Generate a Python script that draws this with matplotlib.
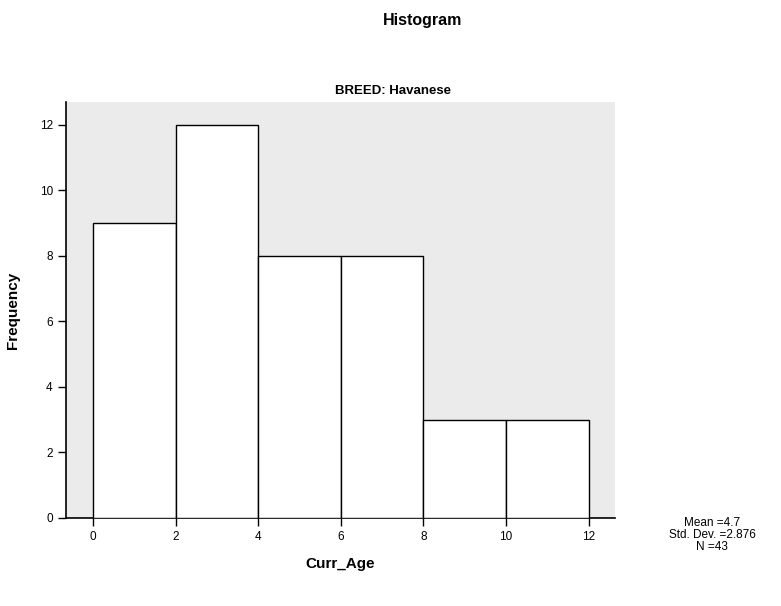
import matplotlib
matplotlib.use("Agg")
import matplotlib.pyplot as plt

plt.rcParams['font.family'] = ['Liberation Sans', 'DejaVu Sans']

bin_edges = [0, 2, 4, 6, 8, 10, 12]
counts = [9, 12, 8, 8, 3, 3]
xticks = [0, 2, 4, 6, 8, 10, 12]
yticks = [0, 2, 4, 6, 8, 10, 12]
stats_text = "Mean =4.7\nStd. Dev. =2.876\nN =43"

fig = plt.figure(figsize=(7.81, 6.06), dpi=100)
ax = fig.add_axes([66/781, 88/606, (615-66)/781, (518-102)/606])
ax.set_facecolor('#ebebeb')
widths = [bin_edges[i+1] - bin_edges[i] for i in range(len(counts))]
ax.bar(bin_edges[:-1], counts, width=widths, align='edge', facecolor='white',
       edgecolor='black', linewidth=1.0, zorder=3, snap=True)
ax.set_xlim(-0.66, 12.64)
ax.set_ylim(0, 12.7)
ax.set_xticks(xticks)
ax.set_yticks(yticks)
ax.tick_params(direction='out', length=6, width=1, labelsize=8.5, colors='black')
for s in ['top', 'right']:
    ax.spines[s].set_visible(False)
for s in ['left', 'bottom']:
    ax.spines[s].set_linewidth(1.2)
ax.set_xlabel('Curr_Age', fontsize=11, fontweight='bold', labelpad=10)
ax.set_ylabel('Frequency', fontsize=11, fontweight='bold', labelpad=14)

fig.text(423/781, 1 - 20/606, 'Histogram', ha='center', va='center', fontsize=11.5, fontweight='bold')
fig.text(393/781, 1 - 91/606, 'BREED: Havanese', ha='center', va='center', fontsize=9.5, fontweight='bold')
fig.text(712/781, 1 - 535/606, stats_text, ha='center', va='center', fontsize=8.5, linespacing=0.95)

fig.savefig('out.png', dpi=100)
